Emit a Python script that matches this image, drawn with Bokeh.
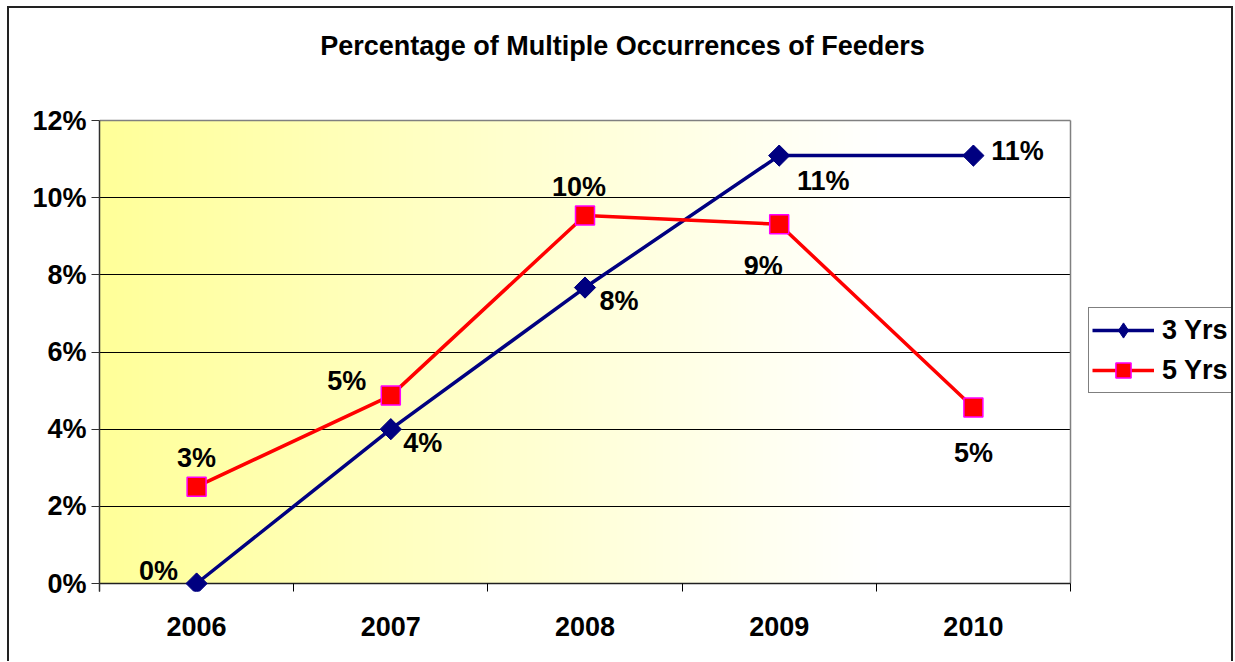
import numpy as np
from bokeh.plotting import figure
from bokeh.models import (Range1d, FixedTicker, NumeralTickFormatter, Grid, Legend, LegendItem,
                          ColumnDataSource, InlineStyleSheet, Label)
from bokeh.core.properties import value
from bokeh.embed import file_html
from bokeh.resources import INLINE

# ---- data ----
years = ["2006", "2007", "2008", "2009", "2010"]
yrs3 = [0.0, 0.040, 0.0767, 0.1109, 0.1109]
yrs5 = [0.0251, 0.0487, 0.0954, 0.0931, 0.0456]
y_ticks = [0.0, 0.02, 0.04, 0.06, 0.08, 0.10, 0.12]
series_names = ["3 Yrs", "5 Yrs"]
title_text = "Percentage of Multiple Occurrences of Feeders"

# data-label offsets in pixels (style)
off3_x = [-38, 32, 34, 44, 44]
off3_y = [-13, 14, 13, 25, -5]
off5_x = [0, -44, -6, -16, 0]
off5_y = [-29, -15, -28, 42, 45]

FONT = "Liberation Sans"
NAVY = "#000080"
RED = "#FF0000"
FS = "27px"

# ---- layout (pixels) ----
W, H = 1234, 661
PLOT_L, PLOT_R = 99, 1070      # visible plot area, left/right
PLOT_T, PLOT_Y0 = 120, 583     # y of top (12%) and of 0%
AXIS_B = 591                   # frame bottom (x-axis tick ends)
MB_R, MB_T = 2, 2

ncat = len(years)
ymax = y_ticks[-1]
px_x = (PLOT_R - PLOT_L) / ncat
px_y = (PLOT_Y0 - PLOT_T) / ymax
x_end = (W - MB_R - PLOT_L) / px_x
y_start = -(AXIS_B - PLOT_Y0) / px_y
y_end = ymax + (PLOT_T - MB_T) / px_y

p = figure(width=W, height=H,
           x_range=Range1d(0, x_end), y_range=Range1d(y_start, y_end),
           output_backend="svg", toolbar_location=None,
           min_border_left=PLOT_L, min_border_right=MB_R, min_border_top=MB_T,
           min_border_bottom=H - AXIS_B,
           background_fill_color="white", border_fill_color="white")
p.outline_line_color = None
p.grid.visible = False
p.stylesheets = [InlineStyleSheet(css=(
    ":host { position: relative; }"
    ":host::after { content: ''; position: absolute; left: 7px; top: 6px; right: 1px; bottom: 0px;"
    " border: 2px solid #222; border-bottom: none; pointer-events: none; z-index: 10; }"))]

# gradient background of the plot area
N = 400
t = np.linspace(0, 1, N)
s = np.clip(t / 0.8, 0, 1)
img = np.empty((1, N), dtype=np.uint32)
view = img.view(dtype=np.uint8).reshape((1, N, 4))
view[..., 0] = 255
view[..., 1] = 255
view[..., 2] = (153 + (255 - 153) * s).astype(np.uint8)
view[..., 3] = 255
p.image_rgba(image=[img], x=0, y=0, dw=ncat, dh=ymax, level="image")

# grid lines, limited to the plot area
p.add_layout(Grid(dimension=1, ticker=FixedTicker(ticks=y_ticks[1:-1]), cross_bounds=(0, ncat),
                  grid_line_color="black", grid_line_width=1))
p.add_layout(Grid(dimension=1, ticker=FixedTicker(ticks=[ymax]), cross_bounds=(0, ncat),
                  grid_line_color="#808080", grid_line_width=1.5))
p.add_layout(Grid(dimension=0, ticker=FixedTicker(ticks=[ncat]), cross_bounds=(0, ymax),
                  grid_line_color="#808080", grid_line_width=1.5))
p.add_layout(Grid(dimension=1, ticker=FixedTicker(ticks=[0.0]), cross_bounds=(0, ncat),
                  grid_line_color="#202020", grid_line_width=1.5))

# x axis
centers = [i + 0.5 for i in range(ncat)]
xa = p.xaxis[0]
xa.bounds = (0, ncat)
xa.ticker = FixedTicker(ticks=centers, minor_ticks=list(range(ncat + 1)))
xa.major_label_overrides = {c: y for c, y in zip(centers, years)}
xa.axis_line_color = None
xa.major_tick_line_color = None
xa.major_tick_out = 0
xa.major_tick_in = 0
xa.minor_tick_in = AXIS_B - PLOT_Y0
xa.minor_tick_out = 0
xa.minor_tick_line_color = "black"
xa.minor_tick_line_width = 1
xa.major_label_standoff = 25
xa.major_label_text_font = FONT
xa.major_label_text_font_style = "bold"
xa.major_label_text_font_size = FS
xa.major_label_text_color = "black"

# y axis
ya = p.yaxis[0]
ya.bounds = (y_start, ymax)
ya.ticker = FixedTicker(ticks=y_ticks)
ya.formatter = NumeralTickFormatter(format="0%")
ya.axis_line_color = "#303030"
ya.axis_line_width = 1.5
ya.major_tick_out = 8
ya.major_tick_in = 0
ya.major_tick_line_color = "#303030"
ya.minor_tick_line_color = None
ya.major_label_standoff = 5
ya.major_label_text_font = FONT
ya.major_label_text_font_style = "bold"
ya.major_label_text_font_size = FS
ya.major_label_text_color = "black"

# series
src3 = ColumnDataSource(dict(x=centers, y=yrs3, lbl=[f"{round(v * 100)}%" for v in yrs3],
                             dx=off3_x, dy=off3_y))
src5 = ColumnDataSource(dict(x=centers, y=yrs5, lbl=[f"{round(v * 100)}%" for v in yrs5],
                             dx=off5_x, dy=off5_y))

l3 = p.line("x", "y", source=src3, line_color=NAVY, line_width=3.5)
# diamond key (used for the legend), covered by the rotated squares below
m3_key = p.scatter("x", "y", source=src3, marker="diamond", size=20,
                   fill_color=NAVY, line_color=NAVY, line_width=1)
m3 = p.scatter("x", "y", source=src3, marker="square", angle=np.pi / 4, size=15,
               fill_color=NAVY, line_color=NAVY, line_width=1)
l5 = p.line("x", "y", source=src5, line_color=RED, line_width=3.5)
m5 = p.scatter("x", "y", source=src5, marker="square", size=19,
               fill_color=RED, line_color="#FF00FF", line_width=1.5)

for src in (src3, src5):
    p.text("x", "y", text="lbl", source=src, x_offset="dx", y_offset="dy",
           text_font=value(FONT), text_font_style="bold", text_font_size=FS,
           text_align="center", text_baseline="middle", text_color="black")

# title
p.add_layout(Label(x=622 - PLOT_L, y=AXIS_B - 45, x_units="screen", y_units="screen",
                   text=title_text, text_font=FONT, text_font_style="bold",
                   text_font_size="27px", text_align="center", text_baseline="middle",
                   text_color="black"))

# legend
legend = Legend(items=[LegendItem(label=series_names[0], renderers=[l3, m3_key]),
                       LegendItem(label=series_names[1], renderers=[l5, m5])],
                location=(1088 - PLOT_L, AXIS_B - 393), orientation="vertical",
                label_text_font=FONT, label_text_font_style="bold", label_text_font_size=FS,
                label_text_color="black",
                glyph_width=62, glyph_height=38, label_height=38, label_standoff=8,
                padding=3, spacing=2, margin=0,
                border_line_color="black", border_line_width=1,
                background_fill_color="white", background_fill_alpha=1.0)
p.add_layout(legend)

open("out.html", "w").write(file_html(p, INLINE))
